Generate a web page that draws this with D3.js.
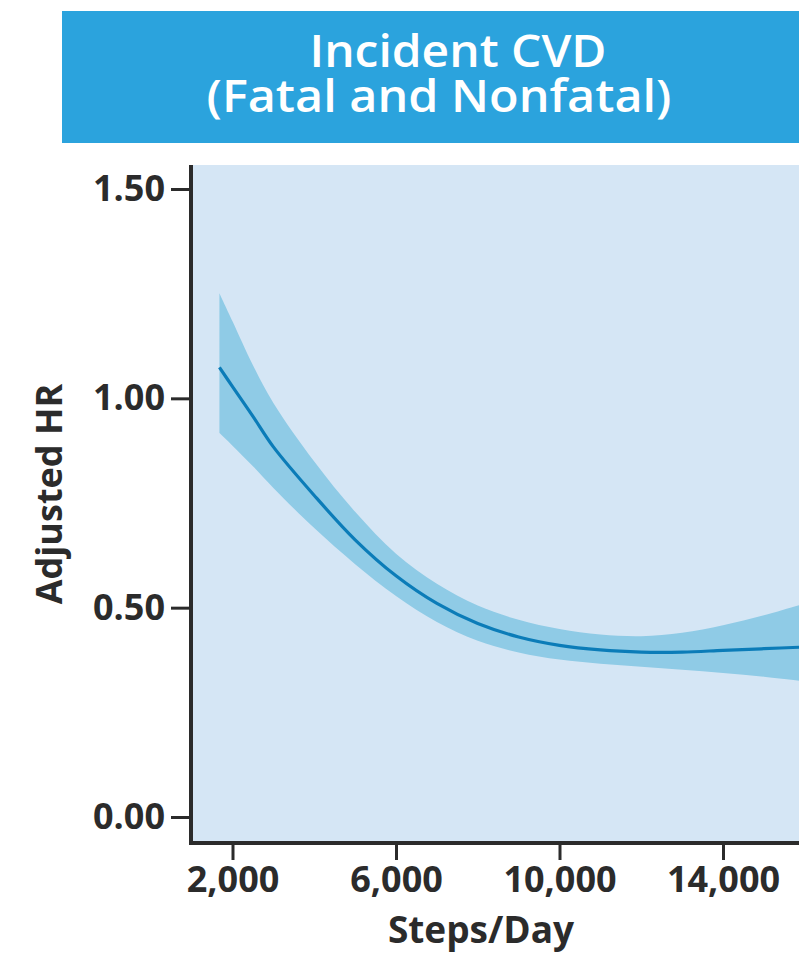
<!DOCTYPE html>
<html><head><meta charset="utf-8">
<script src="https://cdn.jsdelivr.net/npm/d3@7"></script>
<style>body{margin:0;background:#fff} svg{display:block}</style>
</head><body><svg id="c" width="799" height="954"></svg>
<script>
const titleLines = ["Incident CVD", "(Fatal and Nonfatal)"];
const xTicks = [2000, 6000, 10000, 14000];
const yTicks = [0, 0.5, 1.0, 1.5];
const xLabel = "Steps/Day";
const yLabel = "Adjusted HR";
const steps = [1680, 2000, 2500, 3000, 4000, 5000, 6000, 7000, 8000, 9000, 10000, 11000, 12000, 13000, 14000, 15000, 16000];
const hr    = [1.074, 1.028, 0.957, 0.884, 0.768, 0.662, 0.576, 0.510, 0.462, 0.430, 0.410, 0.399, 0.394, 0.394, 0.398, 0.402, 0.406];
const upper = [1.251, 1.184, 1.079, 0.989, 0.849, 0.729, 0.629, 0.557, 0.505, 0.471, 0.449, 0.436, 0.432, 0.440, 0.458, 0.482, 0.510];
const lower = [0.917, 0.887, 0.838, 0.786, 0.690, 0.604, 0.528, 0.466, 0.421, 0.393, 0.376, 0.366, 0.359, 0.352, 0.344, 0.335, 0.324];

const data = steps.map((s, i) => ({s, hr: hr[i], lo: lower[i], hi: upper[i]}));

const svg = d3.select("#c");
const F = "'Open Sans', 'Liberation Sans', sans-serif";

// banner
svg.append("rect").attr("x", 62).attr("y", 11).attr("width", 760).attr("height", 132).attr("fill", "#2ba3dd");
const tl = [{cx: 458, y: 67, w: 297}, {cx: 439, y: 112, w: 465}];
const title = svg.append("text").attr("text-anchor", "middle").attr("fill", "#fff")
  .attr("font-family", F).attr("font-weight", 600).attr("font-size", 45);
titleLines.forEach((t, i) => {
  title.append("tspan").attr("x", tl[i].cx).attr("y", tl[i].y)
    .attr("textLength", tl[i].w).attr("lengthAdjust", "spacingAndGlyphs")
    .text(t);
});

// plot frame
const L = 191, R = 820, T = 165, B = 843;
const x = d3.scaleLinear().domain([2000, 14000]).range([232.5, 723]);
const y = d3.scaleLinear().domain([0, 1.5]).range([817, 189]);

svg.append("rect").attr("x", L).attr("y", T).attr("width", R - L).attr("height", B - T).attr("fill", "#d5e6f5");

svg.append("clipPath").attr("id", "clip").append("rect")
  .attr("x", L).attr("y", T).attr("width", R - L).attr("height", B - T);
const g = svg.append("g").attr("clip-path", "url(#clip)");

const curve = d3.curveCatmullRom.alpha(0.5);
g.append("path").datum(data)
  .attr("fill", "#8fcbe6")
  .attr("d", d3.area().x(d => x(d.s)).y0(d => y(d.lo)).y1(d => y(d.hi)).curve(curve));
g.append("path").datum(data)
  .attr("fill", "none").attr("stroke", "#0b7cb8").attr("stroke-width", 3.2)
  .attr("d", d3.line().x(d => x(d.s)).y(d => y(d.hr)).curve(curve));

// axes
const yAx = svg.append("g").attr("transform", `translate(${L},0)`)
  .call(d3.axisLeft(y).tickValues(yTicks).tickFormat(d3.format(".2f")).tickSize(20).tickPadding(6));
const xAx = svg.append("g").attr("transform", `translate(0,${B})`)
  .call(d3.axisBottom(x).tickValues(xTicks).tickFormat(d3.format(",")).tickSize(17).tickPadding(6));
[yAx, xAx].forEach(a => {
  a.select(".domain").remove();
  a.selectAll(".tick line").attr("stroke", "#2b2b2b").attr("stroke-width", 3);
  a.selectAll(".tick text").attr("fill", "#2b2b2b").attr("font-family", F)
    .attr("font-weight", 700).attr("font-size", 36);
});
svg.append("path").attr("d", `M${L},${T}V${B}H${R}`)
  .attr("fill", "none").attr("stroke", "#2b2b2b").attr("stroke-width", 4);

// axis titles
svg.append("text").attr("x", 481).attr("y", 943).attr("text-anchor", "middle")
  .attr("fill", "#2b2b2b").attr("font-family", F).attr("font-weight", 700).attr("font-size", 37)
  .text(xLabel);
svg.append("text").attr("transform", "translate(62,494) rotate(-90)").attr("text-anchor", "middle")
  .attr("fill", "#2b2b2b").attr("font-family", F).attr("font-weight", 700).attr("font-size", 36)
  .text(yLabel);
</script></body></html>
